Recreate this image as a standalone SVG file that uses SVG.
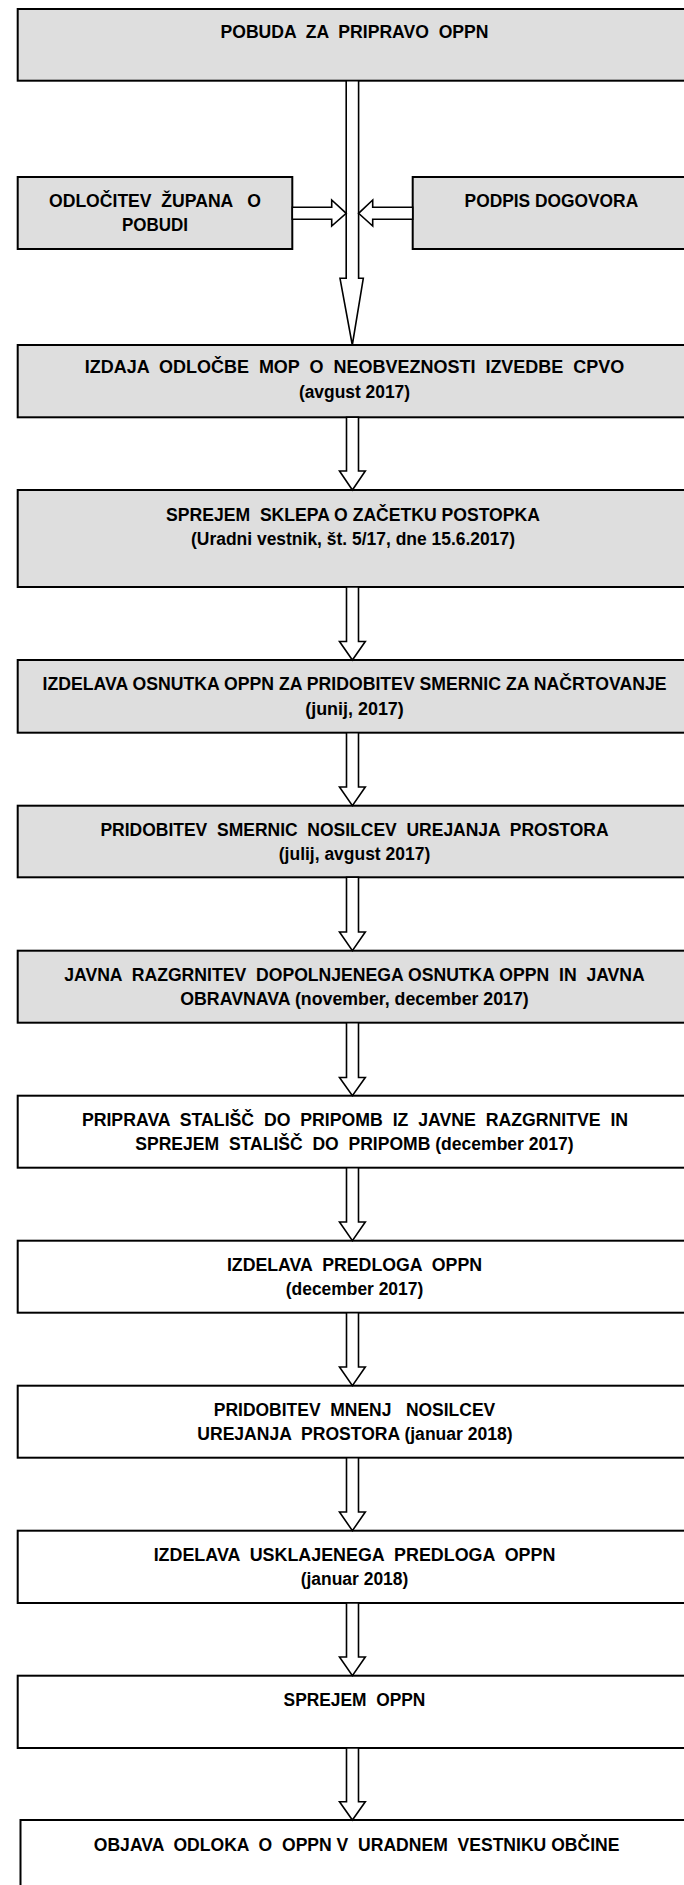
<svg xmlns="http://www.w3.org/2000/svg" width="684" height="1885" viewBox="0 0 684 1885">
<style>
.box{stroke:#000;stroke-width:2}
.g{fill:#dedede}
.w{fill:#fff}
.t{font-family:"Liberation Sans",Arial,sans-serif;font-weight:bold;font-size:17.5px;fill:#000;text-anchor:middle;white-space:pre}
.arr{fill:#fff;stroke:#000;stroke-width:1.6;stroke-linejoin:miter}
</style>
<rect width="684" height="1885" fill="#fff"/>
<g id="n1"><rect class="box g" x="17.7" y="9" width="674" height="71.7"/><text class="t" x="354.5" y="37.5" textLength="268" lengthAdjust="spacingAndGlyphs">POBUDA  ZA  PRIPRAVO  OPPN</text></g>
<g id="n2"><rect class="box g" x="17.7" y="177" width="274.6" height="72"/><text class="t" x="155" y="206.5" textLength="212" lengthAdjust="spacingAndGlyphs">ODLOČITEV  ŽUPANA   O</text><text class="t" x="155" y="231" textLength="66" lengthAdjust="spacingAndGlyphs">POBUDI</text></g>
<g id="n3"><rect class="box g" x="412.7" y="177" width="280" height="72"/><text class="t" x="551.4" y="206.5" textLength="173.6" lengthAdjust="spacingAndGlyphs">PODPIS DOGOVORA</text></g>
<g id="n4"><rect class="box g" x="17.7" y="345" width="674" height="72.3"/><text class="t" x="354.5" y="373" textLength="539.6" lengthAdjust="spacingAndGlyphs">IZDAJA  ODLOČBE  MOP  O  NEOBVEZNOSTI  IZVEDBE  CPVO</text><text class="t" x="354.5" y="398" textLength="111.2" lengthAdjust="spacingAndGlyphs">(avgust 2017)</text></g>
<g id="n5"><rect class="box g" x="17.7" y="490" width="674" height="97"/><text class="t" x="353" y="520.5" textLength="373.8" lengthAdjust="spacingAndGlyphs">SPREJEM  SKLEPA O ZAČETKU POSTOPKA</text><text class="t" x="353" y="545" textLength="324" lengthAdjust="spacingAndGlyphs">(Uradni vestnik, št. 5/17, dne 15.6.2017)</text></g>
<g id="n6"><rect class="box g" x="17.7" y="660" width="674" height="72.7"/><text class="t" x="354.5" y="690" textLength="624" lengthAdjust="spacingAndGlyphs">IZDELAVA OSNUTKA OPPN ZA PRIDOBITEV SMERNIC ZA NAČRTOVANJE</text><text class="t" x="354.5" y="714.5" textLength="98.6" lengthAdjust="spacingAndGlyphs">(junij, 2017)</text></g>
<g id="n7"><rect class="box g" x="17.7" y="805.7" width="674" height="71.6"/><text class="t" x="354.5" y="835.7" textLength="508.2" lengthAdjust="spacingAndGlyphs">PRIDOBITEV  SMERNIC  NOSILCEV  UREJANJA  PROSTORA</text><text class="t" x="354.5" y="860.2" textLength="151.4" lengthAdjust="spacingAndGlyphs">(julij, avgust 2017)</text></g>
<g id="n8"><rect class="box g" x="17.7" y="950.7" width="674" height="72"/><text class="t" x="354.5" y="980.7" textLength="580.6" lengthAdjust="spacingAndGlyphs">JAVNA  RAZGRNITEV  DOPOLNJENEGA OSNUTKA OPPN  IN  JAVNA</text><text class="t" x="354.5" y="1005.2" textLength="348.5" lengthAdjust="spacingAndGlyphs">OBRAVNAVA (november, december 2017)</text></g>
<g id="n9"><rect class="box w" x="17.7" y="1095.7" width="674" height="72"/><text class="t" x="355" y="1125.7" textLength="546.2" lengthAdjust="spacingAndGlyphs">PRIPRAVA  STALIŠČ  DO  PRIPOMB  IZ  JAVNE  RAZGRNITVE  IN</text><text class="t" x="354.5" y="1150.2" textLength="438.4" lengthAdjust="spacingAndGlyphs">SPREJEM  STALIŠČ  DO  PRIPOMB (december 2017)</text></g>
<g id="n10"><rect class="box w" x="17.7" y="1240.7" width="674" height="72"/><text class="t" x="354.5" y="1270.7" textLength="255.2" lengthAdjust="spacingAndGlyphs">IZDELAVA  PREDLOGA  OPPN</text><text class="t" x="354.5" y="1295.2" textLength="137.4" lengthAdjust="spacingAndGlyphs">(december 2017)</text></g>
<g id="n11"><rect class="box w" x="17.7" y="1385.7" width="674" height="72"/><text class="t" x="354.5" y="1415.7" textLength="281.4" lengthAdjust="spacingAndGlyphs">PRIDOBITEV  MNENJ   NOSILCEV</text><text class="t" x="355" y="1440.2" textLength="315.4" lengthAdjust="spacingAndGlyphs">UREJANJA  PROSTORA (januar 2018)</text></g>
<g id="n12"><rect class="box w" x="17.7" y="1530.7" width="674" height="72.3"/><text class="t" x="354.5" y="1560.7" textLength="401.7" lengthAdjust="spacingAndGlyphs">IZDELAVA  USKLAJENEGA  PREDLOGA  OPPN</text><text class="t" x="354.5" y="1585.2" textLength="107.7" lengthAdjust="spacingAndGlyphs">(januar 2018)</text></g>
<g id="n13"><rect class="box w" x="17.7" y="1675.7" width="674" height="72.3"/><text class="t" x="354.5" y="1705.7" textLength="141.8" lengthAdjust="spacingAndGlyphs">SPREJEM  OPPN</text></g>
<g id="n14"><rect class="box w" x="20.5" y="1820" width="674" height="80"/><text class="t" x="356.6" y="1851" textLength="525.6" lengthAdjust="spacingAndGlyphs">OBJAVA  ODLOKA  O  OPPN V  URADNEM  VESTNIKU OBČINE</text></g>
<g id="connectors">
<polygon class="arr" points="346.2,80.7 358.6,80.7 358.6,278.3 363.3,278.3 352.3,345 340,278.3 346.2,278.3"/>
<polygon class="arr" points="292.3,207.3 331.7,207.3 331.7,200 346.2,213.3 331.7,226 331.7,219.3 292.3,219.3"/>
<polygon class="arr" points="412.7,207.3 372.7,207.3 372.7,200 358.6,213.3 372.7,226 372.7,219.3 412.7,219.3"/>
<polygon class="arr" points="346.5,417.3 358.5,417.3 358.5,471 365.3,471 352.4,490 339.5,471 346.5,471"/>
<polygon class="arr" points="346.5,587 358.5,587 358.5,641.5 365.3,641.5 352.4,660 339.5,641.5 346.5,641.5"/>
<polygon class="arr" points="346.5,732.7 358.5,732.7 358.5,787 365.3,787 352.4,805.7 339.5,787 346.5,787"/>
<polygon class="arr" points="346.5,877.3 358.5,877.3 358.5,932 365.3,932 352.4,950.7 339.5,932 346.5,932"/>
<polygon class="arr" points="346.5,1022.7 358.5,1022.7 358.5,1077.5 365.3,1077.5 352.4,1095.7 339.5,1077.5 346.5,1077.5"/>
<polygon class="arr" points="346.5,1167.7 358.5,1167.7 358.5,1222 365.3,1222 352.4,1240.7 339.5,1222 346.5,1222"/>
<polygon class="arr" points="346.5,1312.7 358.5,1312.7 358.5,1367 365.3,1367 352.4,1385.7 339.5,1367 346.5,1367"/>
<polygon class="arr" points="346.5,1457.7 358.5,1457.7 358.5,1512 365.3,1512 352.4,1530.7 339.5,1512 346.5,1512"/>
<polygon class="arr" points="346.5,1603 358.5,1603 358.5,1657 365.3,1657 352.4,1675.7 339.5,1657 346.5,1657"/>
<polygon class="arr" points="346.5,1748 358.5,1748 358.5,1801.7 365.3,1801.7 352.4,1820 339.5,1801.7 346.5,1801.7"/>
</g>
</svg>
